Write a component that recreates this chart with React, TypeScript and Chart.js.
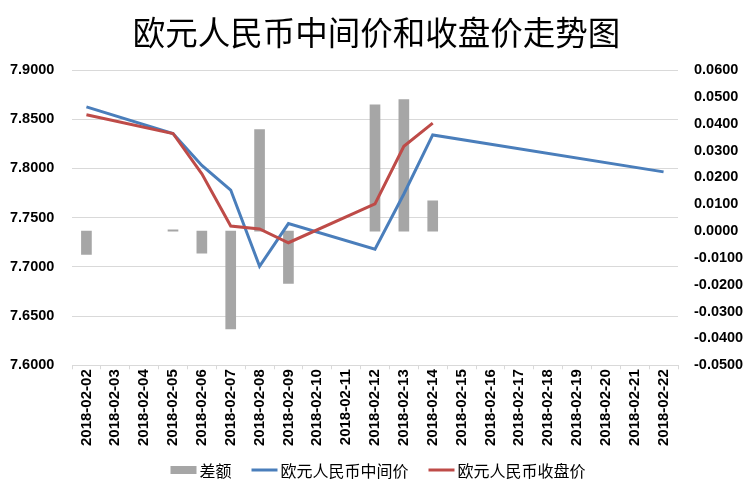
import React, { useEffect, useRef } from "react";
import { Chart, registerables } from "chart.js";

Chart.register(...registerables);

const categories = [
  "2018-02-02", "2018-02-03", "2018-02-04", "2018-02-05", "2018-02-06", "2018-02-07",
  "2018-02-08", "2018-02-09", "2018-02-10", "2018-02-11", "2018-02-12", "2018-02-13",
  "2018-02-14", "2018-02-15", "2018-02-16", "2018-02-17", "2018-02-18", "2018-02-19",
  "2018-02-20", "2018-02-21", "2018-02-22",
];

const diffValues: (number | null)[] = [
  -0.0087, null, null, 0.0005, -0.0082, -0.0365, 0.0378, -0.0195, null, null, 0.0470, 0.0490,
  0.0113, null, null, null, null, null, null, null, null,
];

const midValues: (number | null)[] = [
  7.8625, null, null, 7.8355, 7.8030, 7.7780, 7.7005, 7.7440, null, null, 7.7180, 7.7740,
  7.8340, null, null, null, null, null, null, null, 7.7965,
];

const closeValues: (number | null)[] = [
  7.8545, null, null, 7.8355, 7.7945, 7.7415, 7.7385, 7.7245, null, null, 7.7640, 7.8225,
  7.8460, null, null, null, null, null, null, null, null,
];

const seriesNames = ["差额", "欧元人民币中间价", "欧元人民币收盘价"];
const seriesColors = ["#a6a6a6", "#4a7ebb", "#be4b48"];
const chartTitle = "欧元人民币中间价和收盘价走势图";

const legendFont = "16px 'Noto Sans CJK SC', sans-serif";

const customLegend = {
  id: "customLegend",
  afterDraw(chart: any) {
    const ctx = chart.ctx;
    ctx.save();
    ctx.font = legendFont;
    ctx.textBaseline = "middle";
    ctx.textAlign = "left";
    const symW = 26;
    const gap = 3;
    const itemGap = 20;
    const widths = seriesNames.map((n) => symW + gap + ctx.measureText(n).width);
    const total = widths.reduce((a, b) => a + b, 0) + itemGap * (seriesNames.length - 1);
    let x = (chart.width - total) / 2;
    const y = chart.height - 23;
    chart.data.datasets.forEach((ds: any, i: number) => {
      const color = seriesColors[i];
      if (ds.type === "bar") {
        ctx.fillStyle = color;
        ctx.fillRect(x, y - 4, symW, 8);
      } else {
        ctx.strokeStyle = color;
        ctx.lineWidth = 3;
        ctx.beginPath();
        ctx.moveTo(x, y);
        ctx.lineTo(x + symW, y);
        ctx.stroke();
      }
      ctx.fillStyle = "#000";
      ctx.fillText(seriesNames[i], x + symW + gap, y + 1);
      x += widths[i] + itemGap;
    });
    ctx.restore();
  },
};

export default function App() {
  const ref = useRef<HTMLCanvasElement | null>(null);

  useEffect(() => {
    document.body.style.margin = "0";
    const ctx = ref.current;
    if (!ctx) return;
    const yFont = { family: "'Liberation Sans', Arial, sans-serif", size: 14.5, weight: "bold" as const };
    const xFont = { family: "'Liberation Sans', Arial, sans-serif", size: 15, weight: "bold" as const };
    const chart = new Chart(ctx, {
      type: "bar",
      data: {
        labels: categories,
        datasets: [
          {
            type: "bar",
            label: seriesNames[0],
            data: diffValues,
            backgroundColor: seriesColors[0],
            yAxisID: "y1",
            barThickness: 10,
            order: 3,
          } as any,
          {
            type: "line",
            label: seriesNames[1],
            data: midValues,
            borderColor: seriesColors[1],
            backgroundColor: seriesColors[1],
            borderWidth: 3,
            pointRadius: 0,
            spanGaps: true,
            yAxisID: "y",
            order: 1,
            tension: 0,
          } as any,
          {
            type: "line",
            label: seriesNames[2],
            data: closeValues,
            borderColor: seriesColors[2],
            backgroundColor: seriesColors[2],
            borderWidth: 3,
            pointRadius: 0,
            spanGaps: true,
            yAxisID: "y",
            order: 0,
            tension: 0,
          } as any,
        ],
      },
      options: {
        animation: false,
        responsive: false,
        layout: { padding: { left: 10, right: 13, top: 6, bottom: 47 } },
        plugins: {
          title: {
            display: true,
            text: chartTitle,
            color: "#000",
            font: { family: "'Noto Sans CJK SC', sans-serif", size: 32.5, weight: "normal" },
            padding: { top: 7, bottom: 18 },
          },
          legend: { display: false },
          tooltip: { enabled: false },
        },
        scales: {
          x: {
            offset: true,
            grid: { display: true, drawOnChartArea: false, offset: true, color: "#d9d9d9", tickLength: 4 },
            border: { color: "#d9d9d9" },
            ticks: {
              autoSkip: false,
              maxRotation: 90,
              minRotation: 90,
              color: "#000",
              font: xFont,
              padding: 0,
            },
          },
          y: {
            position: "left",
            min: 7.6,
            max: 7.9,
            grid: { color: "#d9d9d9", drawTicks: false },
            border: { display: false },
            afterFit: (scale: any) => {
              scale.width = 62;
            },
            ticks: {
              stepSize: 0.05,
              color: "#000",
              font: yFont,
              padding: 18,
              crossAlign: "far",
              callback: (v: any) => Number(v).toFixed(4),
            },
          },
          y1: {
            position: "right",
            min: -0.05,
            max: 0.06,
            grid: { display: false, drawTicks: false },
            border: { display: false },
            afterFit: (scale: any) => {
              scale.width = 65;
            },
            ticks: {
              stepSize: 0.01,
              color: "#000",
              font: yFont,
              padding: 16,
              callback: (v: any) => Number(v).toFixed(4),
            },
          },
        },
      } as any,
      plugins: [customLegend],
    });
    return () => chart.destroy();
  }, []);

  return (
    <div style={{ width: 756, height: 493, background: "#fff" }}>
      <canvas ref={ref} width={756} height={493} />
    </div>
  );
}
